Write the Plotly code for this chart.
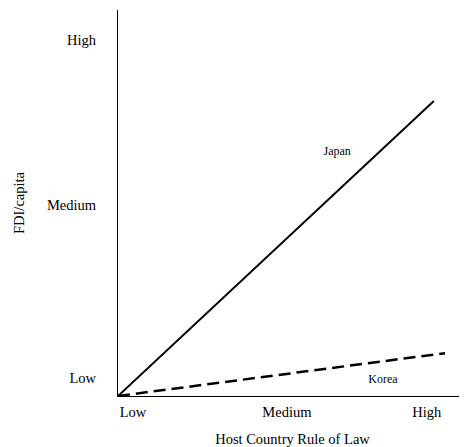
import plotly.graph_objects as go

# Conceptual chart: positions on a 0..1 scale
levels = ["Low", "Medium", "High"]
x_level_pos = [0.043, 0.484, 0.885]
y_level_pos = [0.047, 0.495, 0.922]

japan_x = [0.0, 0.905]
japan_y = [0.0, 0.764]
korea_x = [0.0, 0.937]
korea_y = [0.0, 0.111]

label_names = ["Japan", "Korea"]
label_x = [0.628, 0.759]
label_y = [0.632, 0.041]

FONT = "Liberation Serif, Times New Roman, serif"

fig = go.Figure()
fig.add_trace(go.Scatter(x=japan_x, y=japan_y, mode="lines",
                         line=dict(color="black", width=2), cliponaxis=False,
                         showlegend=False, hoverinfo="skip"))
fig.add_trace(go.Scatter(x=korea_x, y=korea_y, mode="lines",
                         line=dict(color="black", width=2.5, dash="12px,6px"),
                         cliponaxis=False, showlegend=False, hoverinfo="skip"))
fig.add_trace(go.Scatter(x=label_x, y=label_y, mode="text", text=label_names,
                         textfont=dict(family=FONT, size=12, color="black"),
                         showlegend=False, hoverinfo="skip"))

fig.update_layout(
    width=459, height=439,
    margin=dict(l=110, r=0, t=2, b=51),
    paper_bgcolor="white", plot_bgcolor="white",
    font=dict(family=FONT, size=14.5, color="black"),
    xaxis=dict(range=[0, 1], showgrid=False, zeroline=False, showline=True,
               linecolor="black", linewidth=1,
               tickmode="array", tickvals=x_level_pos, ticktext=levels,
               ticks="outside", ticklen=0, ticklabelstandoff=3,
               title=dict(text="Host Country Rule of Law", standoff=14,
                          font=dict(size=14.5))),
    yaxis=dict(range=[0, 1], showgrid=False, zeroline=False, showline=True,
               linecolor="black", linewidth=1,
               tickmode="array", tickvals=y_level_pos, ticktext=levels,
               ticks="outside", ticklen=0, ticklabelstandoff=18,
               title=dict(text="FDI/capita", standoff=18,
                          font=dict(size=14.5))),
)

fig.write_html("out.html")
